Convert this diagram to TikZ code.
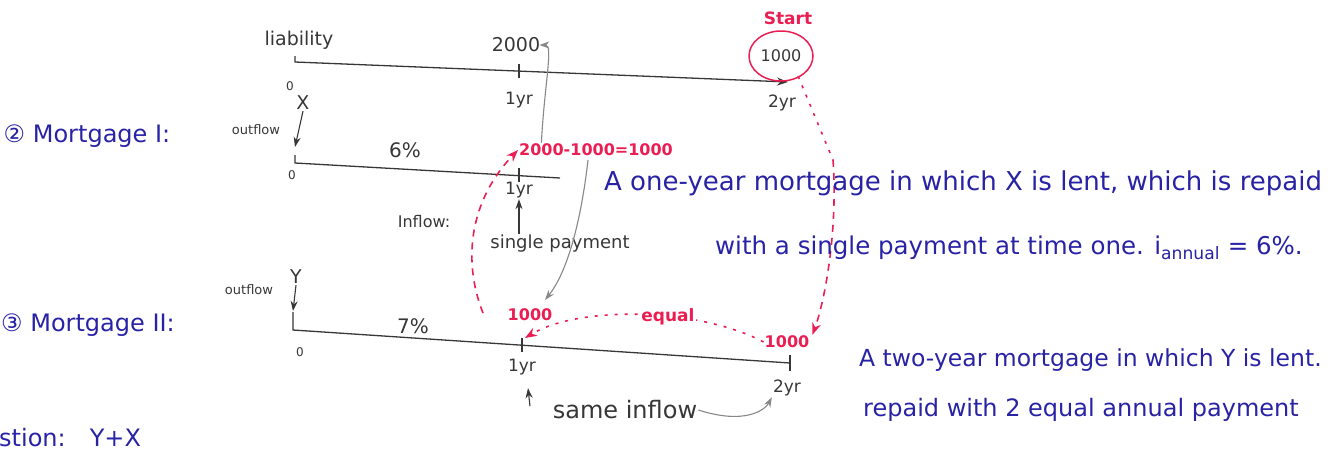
\documentclass[tikz,border=0pt]{standalone}
\usepackage{fontspec}
\setmainfont{DejaVu Sans}
\usepackage{xcolor}
\usepackage{tikz}
\usetikzlibrary{positioning,arrows.meta,calc,shapes.geometric}
\definecolor{inkblue}{RGB}{40,34,165}
\definecolor{inkred}{RGB}{234,30,82}
\definecolor{pencil}{RGB}{55,55,55}
\definecolor{faint}{RGB}{135,135,135}
\tikzset{
  blu/.style={text=inkblue,inner sep=1pt,font=\fontsize{#1}{#1}\selectfont},
  blu/.default=24,
  pen/.style={text=pencil,inner sep=1pt,font=\fontsize{#1}{#1}\selectfont},
  pen/.default=17,
  rd/.style={text=inkred,inner sep=1pt,font=\fontsize{#1}{#1}\selectfont\bfseries},
  rd/.default=15,
  tline/.style={draw=pencil,line width=1.3pt},
  tick/.style={draw=pencil,line width=1.1pt},
  penarrow/.style={draw=pencil,line width=1.1pt,-{Stealth[length=10pt,width=7pt]}},
  greyarrow/.style={draw=faint,line width=1.1pt,-{Stealth[length=10pt,width=7pt]}},
  redline/.style={draw=inkred,line width=1.6pt,dash pattern=on 7pt off 6pt},
  reddots/.style={draw=inkred,line width=1.6pt,dash pattern=on 3pt off 7pt},
}

\begin{document}
\begin{tikzpicture}[x=1pt,y=-1pt,>={Stealth[length=12pt,width=9pt]}]
  \useasboundingbox (0,0) rectangle (1344,450);
  % liability line
  \coordinate (a0) at (295,62);
  \coordinate (a1) at (519,71);
  \coordinate (a2) at (788,82);
  \draw[tline,-{Stealth[length=11pt,width=8pt]}] ($(a0)+(0,-6)$) -- (a0) -- (a2);
  \draw[tick] ($(a1)+(0,-7)$) -- ($(a1)+(0,7)$);
  \node[pen=19] (liab) at (299,40) {liability};
  \node[pen=12] (a0lbl) at (290,86) {0};
  \node[pen=19] (k2000) at (516,45) {2000};
  \node[pen] (a1lbl) at (519,100) {1yr};
  \node[pen] (a2lbl) at (782,103) {2yr};
  \node[pen=16,ellipse,draw=inkred,line width=1.5pt,minimum width=64,minimum height=50] (k1000) at (781,56) {1000};
  \node[rd=17] (start) at (788,18) {Start};
  \node[rd=16] (eq) at (596,150) {2000-1000=1000};
  \draw[greyarrow] (k2000.east |- eq.north) .. controls ($(k2000.east)+(3,40)$) and ($(k2000.east)+(12,0)$) .. ([xshift=-2pt]k2000.east);

  % mortgage I line
  \coordinate (b0) at (295,163);
  \coordinate (b1) at (519,175);
  \coordinate (b2) at (560,178);
  \draw[tline] ($(b0)+(0,-8)$) -- (b0) -- (b2);
  \draw[tick] ($(b1)+(0,-7)$) -- ($(b1)+(0,7)$);
  \node[pen=19] (xamt) at (303,103) {X};
  \node[pen=13] (out1) at (256,130) {outflow};
  \draw[penarrow] (xamt.south) -- ($(b0)+(0,-16)$);
  \node[pen=12] (b0lbl) at (292,175) {0};
  \node[pen=20] (six) at (405,150) {6\%};
  \node[pen] (b1lbl) at (519,190) {1yr};
  \node[pen=16] (inflow) at (424,222) {Inflow:};
  \node[pen=18] (sp) at (560,244) {single payment};
  \draw[penarrow] (b1lbl.south |- sp.north) -- (b1lbl.south);
  \draw[redline,->] (483,313) .. controls (462,260) and (470,200) .. (eq.west);

  % mortgage II line
  \coordinate (c0) at (293,330);
  \coordinate (c1) at (522,345);
  \coordinate (c2) at (790,363);
  \draw[tline] ($(c0)+(0,-18)$) -- (c0) -- (c2);
  \draw[tick] ($(c1)+(0,-7)$) -- ($(c1)+(0,7)$);
  \draw[tick] ($(c2)+(0,-8)$) -- ($(c2)+(0,8)$);
  \node[pen=19] (yamt) at (296,277) {Y};
  \node[pen=13] (out2) at (249,290) {outflow};
  \draw[penarrow] (yamt.south) -- ($(c0)+(0,-19)$);
  \node[pen=12] (c0lbl) at (300,352) {0};
  \node[pen=20] (seven) at (413,326) {7\%};
  \node[pen] (c1lbl) at (522,367) {1yr};
  \node[pen] (c2lbl) at (787,388) {2yr};
  \node[pen=24] (same) at (625,410) {same inflow};
  \draw[penarrow] ($(c1lbl.south)+(8,30)$) -- ($(c1lbl.south)+(6,12)$);
  \draw[greyarrow] (same.east) .. controls (745,425) and (765,410) .. (c2lbl.south west);
  \draw[greyarrow] (588,160) .. controls (580,230) and (565,275) .. (545,300);

  % red amounts
  \node[rd=16] (r1) at (530,315) {1000};
  \node[rd=16] (r2) at (787,342) {1000};
  \draw[reddots,->] (r2.west) .. controls (700,308) and (580,305) .. ($(c1)+(3,-7)$)
    node[pos=0.4,rd=17,fill=white] (equal) {equal};
  \draw[reddots] ([xshift=-6pt,yshift=-2pt]k1000.south east) -- (833,160);
  \draw[redline,->] (833,160) .. controls (838,230) and (825,300) .. ([xshift=2pt]r2.north east);

  % blue notes
  \node[blu] (m1) at (87,136) {② Mortgage I:};
  \node[blu] (m2) at (88,325) {③ Mortgage II:};
  \node[blu=26,anchor=west] (d1a) at (603,183) {A one-year mortgage in which X is lent, which is repaid};
  \node[blu=24.5,anchor=west] (d1b) at (714,248) {with a single payment at time one. i\textsubscript{annual} = 6\%.};
  \node[blu=23.5,anchor=west] (d2a) at (858,360) {A two-year mortgage in which Y is lent.};
  \node[blu,anchor=west] (d2b) at (862,410) {repaid with 2 equal annual payment};
  \node[blu,anchor=south west] (q) at (-2,448) {stion:\quad Y+X};
\end{tikzpicture}
\end{document}
